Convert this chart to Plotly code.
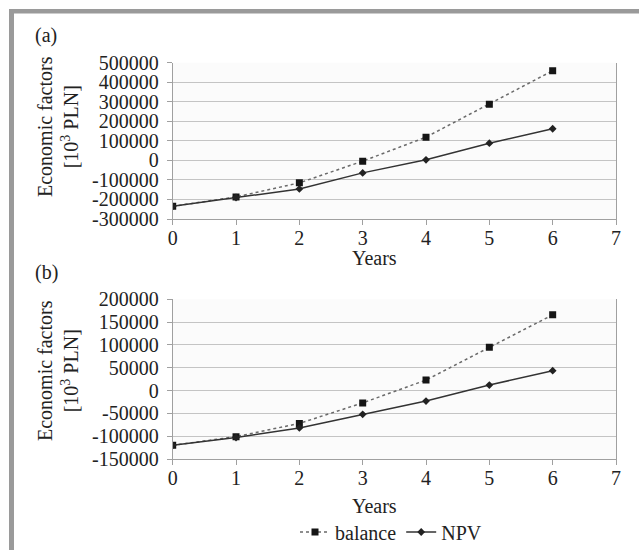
import plotly.graph_objects as go

years = [0, 1, 2, 3, 4, 5, 6]

# Panel (a)
balance_a = [-235000, -187000, -115000, -4000, 119000, 287000, 459000]
npv_a = [-235000, -190000, -146000, -64000, 3000, 88000, 162000]

# Panel (b)
balance_b = [-120000, -101000, -72000, -27000, 23000, 95000, 166000]
npv_b = [-120000, -103000, -82000, -52000, -23000, 12000, 43500]

# Tick values
x_ticks = [0, 1, 2, 3, 4, 5, 6, 7]
y_ticks_a = [-300000, -200000, -100000, 0, 100000, 200000, 300000, 400000, 500000]
y_ticks_b = [-150000, -100000, -50000, 0, 50000, 100000, 150000, 200000]

W, H = 639, 550
FONT = "Liberation Serif"
TXT = "#222222"
FS = 20

def px(x):
    return x / W

def py(y):
    return 1 - y / H

fig = go.Figure()

bal_style = dict(mode="lines+markers", line=dict(color="#6a6a6a", width=1.5, dash="dot"),
                 marker=dict(symbol="square", size=7, color="#151515"))
npv_style = dict(mode="lines+markers", line=dict(color="#333333", width=1.5),
                 marker=dict(symbol="diamond", size=6, color="#222222"))

fig.add_trace(go.Scatter(x=years, y=balance_a, name="balance", xaxis="x", yaxis="y",
                         showlegend=True, **bal_style))
fig.add_trace(go.Scatter(x=years, y=npv_a, name="NPV", xaxis="x", yaxis="y",
                         showlegend=True, **npv_style))
fig.add_trace(go.Scatter(x=years, y=balance_b, name="balance", xaxis="x2", yaxis="y2",
                         showlegend=False, **bal_style))
fig.add_trace(go.Scatter(x=years, y=npv_b, name="NPV", xaxis="x2", yaxis="y2",
                         showlegend=False, **npv_style))

xdom = [px(172.7), px(616)]
ax_common = dict(showline=True, linecolor="#a0a0a0", linewidth=1, ticks="outside",
                 ticklen=5, tickcolor="#a0a0a0", tickfont=dict(family=FONT, size=FS, color=TXT),
                 zeroline=False, automargin=False)
xaxis_cfg = dict(range=[0, 7], tickmode="array", tickvals=x_ticks,
                 ticktext=[str(v) for v in x_ticks], showgrid=False,
                 ticklabelstandoff=-4, **ax_common)
fig.update_layout(
    xaxis=dict(domain=xdom, anchor="y", **xaxis_cfg),
    xaxis2=dict(domain=xdom, anchor="y2", **xaxis_cfg),
    yaxis=dict(domain=[py(219), py(62.7)], anchor="x", range=[-300000, 500000],
               tickmode="array", tickvals=y_ticks_a, ticktext=[str(v) for v in y_ticks_a],
               ticklabelstandoff=4,
               showgrid=True, gridcolor="#c4c4c4", gridwidth=1, mirror=True, **ax_common),
    yaxis2=dict(domain=[py(459), py(299.3)], anchor="x2", range=[-150000, 200000],
                tickmode="array", tickvals=y_ticks_b, ticktext=[str(v) for v in y_ticks_b],
                ticklabelstandoff=4,
                showgrid=True, gridcolor="#c4c4c4", gridwidth=1, mirror=True, **ax_common),
)

annots = []
for label, yc in [("(a)", 36), ("(b)", 272)]:
    annots.append(dict(text=label, x=px(33), y=py(yc), xref="paper", yref="paper",
                       xanchor="left", yanchor="middle", showarrow=False,
                       font=dict(family=FONT, size=FS, color=TXT)))
for yc in [127, 371]:
    annots.append(dict(text="Economic factors<br>[10<sup>3</sup> PLN]", x=px(58), y=py(yc),
                       xref="paper", yref="paper", xanchor="center", yanchor="middle",
                       textangle=-90, showarrow=False,
                       font=dict(family=FONT, size=FS, color=TXT)))
for yc in [258, 506]:
    annots.append(dict(text="Years", x=px(374), y=py(yc), xref="paper", yref="paper",
                       xanchor="center", yanchor="middle", showarrow=False,
                       font=dict(family=FONT, size=FS, color=TXT)))

shapes = [
    dict(type="rect", xref="paper", yref="paper", x0=px(9), x1=px(639), y0=py(13.5), y1=py(9),
         fillcolor="#9a9a9a", line=dict(width=0), layer="above"),
    dict(type="rect", xref="paper", yref="paper", x0=px(9), x1=px(14), y0=py(550), y1=py(9),
         fillcolor="#9a9a9a", line=dict(width=0), layer="above"),
]

fig.update_layout(
    width=W, height=H, margin=dict(l=0, r=0, t=0, b=0, autoexpand=False),
    paper_bgcolor="white", plot_bgcolor="#fbfbfb",
    annotations=annots, shapes=shapes,
    showlegend=True,
    legend=dict(orientation="h", x=px(295), y=py(532), xanchor="left", yanchor="middle",
                font=dict(family=FONT, size=FS, color=TXT), bgcolor="rgba(0,0,0,0)",
                itemwidth=30, tracegroupgap=0),
)

fig.write_html("out.html", config={"displayModeBar": False},
               post_script="document.body.style.margin='0';document.documentElement.style.overflow='hidden';")
